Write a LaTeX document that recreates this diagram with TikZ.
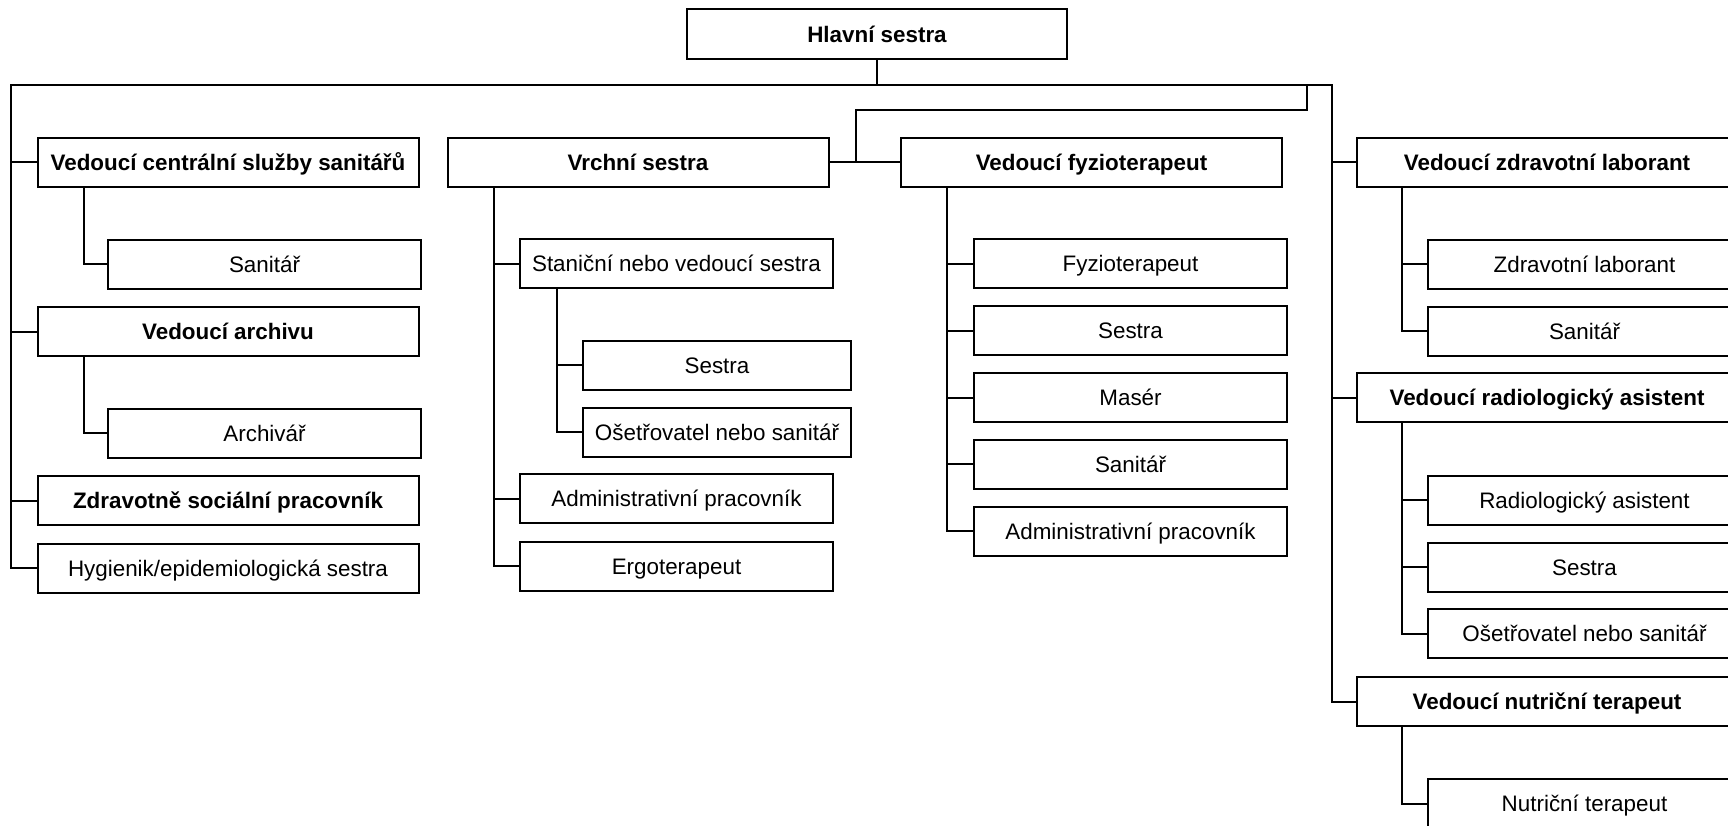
\documentclass[tikz,border=0pt]{standalone}
\usepackage{fontspec}
\setmainfont{Liberation Sans}
\usepackage{tikz}
\tikzset{>=latex}
\tikzset{
    box/.style={draw, fill=white, line width=2pt, inner sep=0pt, minimum height=49pt,
        text height=16pt, text depth=0pt, font=\fontsize{22.4}{26}\selectfont},
    head/.style={box, minimum width=381pt, font=\fontsize{22.4}{26}\selectfont\bfseries},
    sub/.style={box, minimum width=313pt},
    subsub/.style={box, minimum width=268pt},
    link/.style={line width=2pt},
}

\begin{document}
\begin{tikzpicture}[x=1pt, y=-1pt]
    \path[use as bounding box, clip] (0,0) rectangle (1728,825);

    \coordinate (TL) at (11,85);
    \coordinate (TR) at (1332,85);
    \coordinate (LK) at (1307,110);

    % Head
    \node[head, minimum width=380pt, minimum height=50pt] (HS) at (877,34) {Hlavní sestra};

    % Left column
    \node[head] (CS) at (228,162) {Vedoucí centrální služby sanitářů};
    \node[sub] (S1) at (264.5,264) {Sanitář};
    \node[head] (VA) at (228,331.5) {Vedoucí archivu};
    \node[sub] (AR) at (264.5,433) {Archivář};
    \node[head] (ZS) at (228,500.5) {Zdravotně sociální pracovník};
    \node[box, minimum width=381pt] (HY) at (228,568) {Hygienik/epidemiologická sestra};

    % Vrchni sestra
    \node[head] (VS) at (638,162) {Vrchní sestra};
    \node[sub] (SN) at (676.5,263.5) {Staniční nebo vedoucí sestra};
    \node[subsub] (V1) at (717,365) {Sestra};
    \node[subsub] (V2) at (717,432) {Ošetřovatel nebo sanitář};
    \node[sub] (V3) at (676.5,498.5) {Administrativní pracovník};
    \node[sub] (V4) at (676.5,566) {Ergoterapeut};

    % Fyzioterapie
    \node[head] (VF) at (1091.5,162) {Vedoucí fyzioterapeut};
    \node[sub] (F1) at (1130.5,263.5) {Fyzioterapeut};
    \node[sub] (F2) at (1130.5,330.5) {Sestra};
    \node[sub] (F3) at (1130.5,397.5) {Masér};
    \node[sub] (F4) at (1130.5,464) {Sanitář};
    \node[sub] (F5) at (1130.5,531) {Administrativní pracovník};

    % Right column
    \node[head] (VL) at (1547,162) {Vedoucí zdravotní laborant};
    \node[sub] (L1) at (1584.5,264) {Zdravotní laborant};
    \node[sub] (L2) at (1584.5,331) {Sanitář};
    \node[head] (VR) at (1547,397.5) {Vedoucí radiologický asistent};
    \node[sub] (R1) at (1584.5,500) {Radiologický asistent};
    \node[sub] (R2) at (1584.5,567) {Sestra};
    \node[sub] (R3) at (1584.5,633.5) {Ošetřovatel nebo sanitář};
    \node[head] (VN) at (1547,701.5) {Vedoucí nutriční terapeut};
    \node[sub] (N1) at (1584.5,803.5) {Nutriční terapeut};

    % Bars
    \coordinate (BC) at ([xshift=47pt]CS.south west);
    \coordinate (BA) at ([xshift=47pt]VA.south west);
    \coordinate (BV) at ([xshift=47pt]VS.south west);
    \coordinate (BS) at ([xshift=38pt]SN.south west);
    \coordinate (BF) at ([xshift=47pt]VF.south west);
    \coordinate (BL) at ([xshift=46pt]VL.south west);
    \coordinate (BR) at ([xshift=46pt]VR.south west);
    \coordinate (BN) at ([xshift=46pt]VN.south west);

    % Trunk
    \draw[link] (HS.south) -- (HS.south |- TL);
    \draw[link] (HY.west) -| (TL) -- (TR) |- (VN.west);
    \foreach \n in {CS,VA,ZS} \draw[link] (\n.west) -- (\n.west -| TL);
    \foreach \n in {VL,VR} \draw[link] (\n.west) -- (\n.west -| TR);
    \draw[link] (VS.east) -- (VF.west);
    \draw[link] ([xshift=26pt]VS.east) |- (LK) -- (LK |- TR);

    % Branches
    \draw[link] (BC) |- (S1.west);
    \draw[link] (BA) |- (AR.west);
    \draw[link] (BV) |- (V4.west);
    \foreach \n in {SN,V3} \draw[link] (\n.west) -- (\n.west -| BV);
    \draw[link] (BS) |- (V2.west);
    \draw[link] (V1.west) -- (V1.west -| BS);
    \draw[link] (BF) |- (F5.west);
    \foreach \n in {F1,F2,F3,F4} \draw[link] (\n.west) -- (\n.west -| BF);
    \draw[link] (BL) |- (L2.west);
    \draw[link] (L1.west) -- (L1.west -| BL);
    \draw[link] (BR) |- (R3.west);
    \foreach \n in {R1,R2} \draw[link] (\n.west) -- (\n.west -| BR);
    \draw[link] (BN) |- (N1.west);
\end{tikzpicture}
\end{document}
